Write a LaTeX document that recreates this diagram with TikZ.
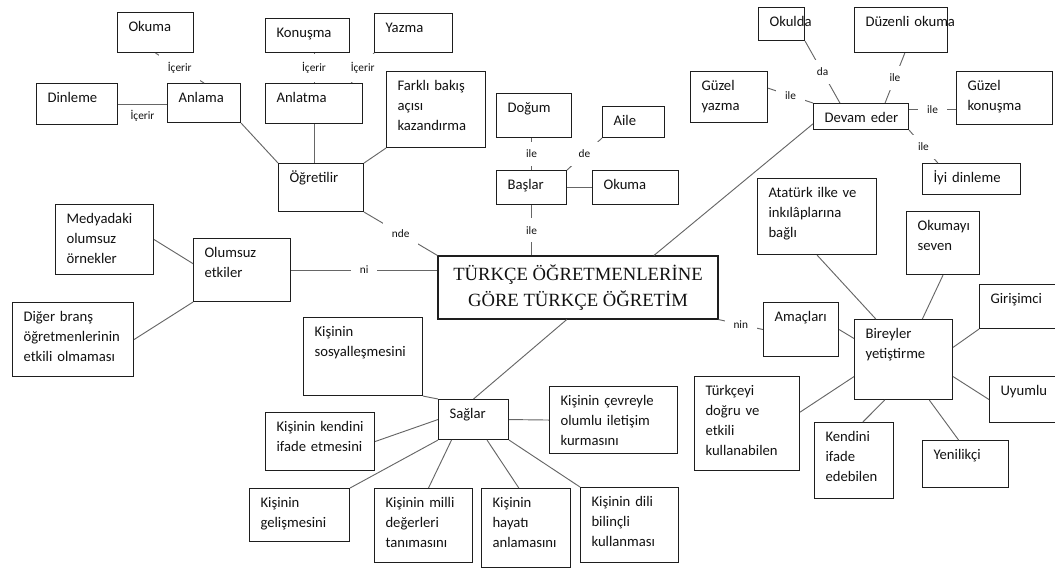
\documentclass[tikz,border=0pt]{standalone}
\usepackage{fontspec}
\setmainfont{Carlito}
\newfontfamily\titlefont{Liberation Serif}
\usetikzlibrary{calc}
\definecolor{boxline}{HTML}{1E1E1E}
\definecolor{linkgray}{HTML}{666666}
\definecolor{ink}{HTML}{111111}
\hyphenpenalty=10000
\exhyphenpenalty=10000

\begin{document}
\begin{tikzpicture}[x=0.75pt,y=-0.75pt]
\tikzset{box/.style 2 args={draw=boxline,line width=0.8pt,anchor=north west,align=left,text=ink,font=\fontsize{11}{15}\selectfont,inner xsep=8.25pt,inner ysep=0pt,text width={#1*0.75pt-16.5pt},text height=14.25pt,text depth={#2*0.75pt-14.25pt}},
  main/.style={draw=boxline,line width=0.8pt,align=center,text=ink,font=\fontsize{14}{19.5}\selectfont\titlefont,minimum width=210pt,minimum height=47.25pt,inner sep=0pt},
  link/.style={draw=linkgray,line width=0.7pt},
  note/.style={text=ink,font=\fontsize{8.5}{10}\selectfont},
  lbl/.style={note,fill=white,inner xsep=6.5pt,inner ysep=6pt}}
\useasboundingbox (0,0) rectangle (1055,568);
\clip (0,0) rectangle (1055,568);
\node[main] (title) at (578,287.5) {TÜRKÇE ÖĞRETMENLERİNE\\GÖRE TÜRKÇE ÖĞRETİM};
\node[box={76}{40}] (okuma1) at (117,12) {Okuma};
\node[box={81}{41}] (dinleme) at (36,83) {Dinleme};
\node[box={73}{39}] (anlama) at (167,83) {Anlama};
\node[box={84}{34}] (konusma) at (265,18) {Konuşma};
\node[box={78}{39}] (yazma) at (374,13) {Yazma};
\node[box={97}{40}] (anlatma) at (265,83) {Anlatma};
\node[box={99}{76}] (farkli) at (386,71) {Farklı~bakış\\açısı\\kazandırma};
\node[box={85}{48}] (ogretilir) at (278,163) {Öğretilir};
\node[box={75}{44}] (dogum) at (496,93) {Doğum};
\node[box={62}{31}] (aile) at (602,106) {Aile};
\node[box={70}{34}] (baslar) at (496,170) {Başlar};
\node[box={86}{34}] (okuma2) at (592,170) {Okuma};
\node[box={46}{33}] (okulda) at (758,7) {Okulda};
\node[box={93}{45}] (duzenli) at (854,7) {Düzenli~okuma};
\node[box={77}{51}] (gyazma) at (690,71) {Güzel\\yazma};
\node[box={95}{26}] (devam) at (813,103) {Devam~eder};
\node[box={96}{53}] (gkonusma) at (956,71) {Güzel\\konuşma};
\node[box={98}{31}] (iyi) at (922,163) {İyi~dinleme};
\node[box={98}{70}] (medya) at (55,204) {Medyadaki\\olumsuz\\örnekler};
\node[box={97}{63}] (olumsuz) at (193,238) {Olumsuz\\etkiler};
\node[box={121}{74}] (diger) at (12,302) {Diğer~branş\\öğretmenlerinin\\etkili~olmaması};
\node[box={119}{78}] (sosyal) at (303,317) {Kişinin\\sosyalleşmesini};
\node[box={70}{40}] (saglar) at (438,399) {Sağlar};
\node[box={128}{67}] (cevre) at (549,386) {Kişinin~çevreyle\\olumlu~iletişim\\kurmasını};
\node[box={109}{58}] (kendini) at (265,412) {Kişinin~kendini\\ifade~etmesini};
\node[box={100}{53}] (gelisme) at (249,488) {Kişinin\\gelişmesini};
\node[box={98}{74}] (milli) at (374,488) {Kişinin~milli\\değerleri\\tanımasını};
\node[box={89}{79}] (hayati) at (481,488) {Kişinin\\hayatı\\anlamasını};
\node[box={98}{75}] (dili) at (580,487) {Kişinin~dili\\bilinçli\\kullanması};
\node[box={119}{76}] (ataturk) at (757,178) {Atatürk~ilke~ve\\inkılâplarına\\bağlı};
\node[box={73}{63}] (okumayi) at (906,211) {Okumayı\\seven};
\node[box={100}{44}] (girisimci) at (979,284) {Girişimci};
\node[box={75}{54}] (amac) at (763,302) {Amaçları};
\node[box={98}{80}] (bireyler) at (854,319) {Bireyler\\yetiştirme};
\node[box={90}{46}] (uyumlu) at (989,376) {Uyumlu};
\node[box={105}{94}] (turkceyi) at (694,376) {Türkçeyi\\doğru~ve\\etkili\\kullanabilen};
\node[box={79}{76}] (kendi2) at (814,422) {Kendini\\ifade\\edebilen};
\node[box={86}{47}] (yenilikci) at (922,440) {Yenilikçi};
\coordinate (dk) at ($(devam.north east)!.23!(devam.south east)$);
\draw[link] (okuma1.south) -- node[lbl] (i1) {İçerir} (anlama.north);
\draw[link] (dinleme.east) -- node[note,below=1pt] (i2) {İçerir} (dinleme.east -| anlama.west);
\draw[link] (anlatma.north |- konusma.south) -- node[lbl] (i3) {İçerir} (anlatma.north);
\draw[link] (yazma.south west) -- node[lbl] (i4) {İçerir} ($(anlatma.north west)!.88!(anlatma.north east)$);
\draw[link] (anlama.south east) -- (ogretilir.north west);
\draw[link] (anlatma.south) -- (anlatma.south |- ogretilir.north);
\draw[link] (farkli.south west) -- (ogretilir.north east);
\draw[link] (ogretilir.south east) -- node[lbl] (n1) {nde} (title.north west);
\draw[link] (baslar.north) -- node[lbl] (n2) {ile} (baslar.north |- dogum.south);
\draw[link] (aile.south west) -- node[lbl] (n3) {de} (baslar.north east);
\draw[link] (baslar.east) -- (okuma2.west);
\draw[link] (baslar.south) -- node[lbl] (n4) {ile} (baslar.south |- title.north);
\draw[link] (okulda.south east) -- node[lbl] (d1) {da} ($(devam.north west)!.28!(devam.north east)$);
\draw[link] ($(duzenli.south west)!.54!(duzenli.south east)$) -- node[lbl] (d2) {ile} ($(devam.north west)!.75!(devam.north east)$);
\draw[link] ($(gyazma.north east)!.33!(gyazma.south east)$) -- node[lbl] (d3) {ile} (devam.north west);
\draw[link] (dk) -- node[lbl] (d4) {ile} (dk -| gkonusma.west);
\draw[link] (devam.south east) -- node[lbl] (d5) {ile} ($(iyi.north west)!.16!(iyi.north east)$);
\draw[link] ($(devam.north west)!.77!(devam.south west)$) -- ($(title.north west)!.77!(title.north east)$);
\draw[link] (olumsuz.east) -- node[lbl] (o1) {ni} (olumsuz.east -| title.west);
\draw[link] (medya.east) -- ($(olumsuz.north west)!.4!(olumsuz.south west)$);
\draw[link] (diger.east) -- (olumsuz.south west);
\draw[link] ($(title.south west)!.46!(title.south east)$) -- (saglar.north);
\draw[link] (sosyal.south east) -- (saglar.north west);
\draw[link] (kendini.east) -- (saglar.west);
\draw[link] (gelisme.north east) -- (saglar.south west);
\draw[link] ($(milli.north west)!.55!(milli.north east)$) -- ($(saglar.south west)!.19!(saglar.south east)$);
\draw[link] ($(hayati.north west)!.42!(hayati.north east)$) -- ($(saglar.south west)!.69!(saglar.south east)$);
\draw[link] (dili.north west) -- (saglar.south east);
\draw[link] (saglar.east) -- (cevre.west);
\draw[link] (title.south east) -- node[lbl] (a1) {nin} (amac.west);
\draw[link] (amac.east) -- ($(bireyler.north west)!.24!(bireyler.south west)$);
\draw[link] (ataturk.south) -- ($(bireyler.north west)!.22!(bireyler.north east)$);
\draw[link] (okumayi.south) -- ($(bireyler.north west)!.69!(bireyler.north east)$);
\draw[link] (girisimci.south west) -- ($(bireyler.north east)!.35!(bireyler.south east)$);
\draw[link] (uyumlu.west) -- ($(bireyler.north east)!.71!(bireyler.south east)$);
\draw[link] ($(turkceyi.north east)!.38!(turkceyi.south east)$) -- ($(bireyler.north west)!.71!(bireyler.south west)$);
\draw[link] ($(kendi2.north west)!.61!(kendi2.north east)$) -- ($(bireyler.south west)!.31!(bireyler.south east)$);
\draw[link] ($(yenilikci.north west)!.42!(yenilikci.north east)$) -- ($(bireyler.south west)!.76!(bireyler.south east)$);
\end{tikzpicture}
\end{document}
